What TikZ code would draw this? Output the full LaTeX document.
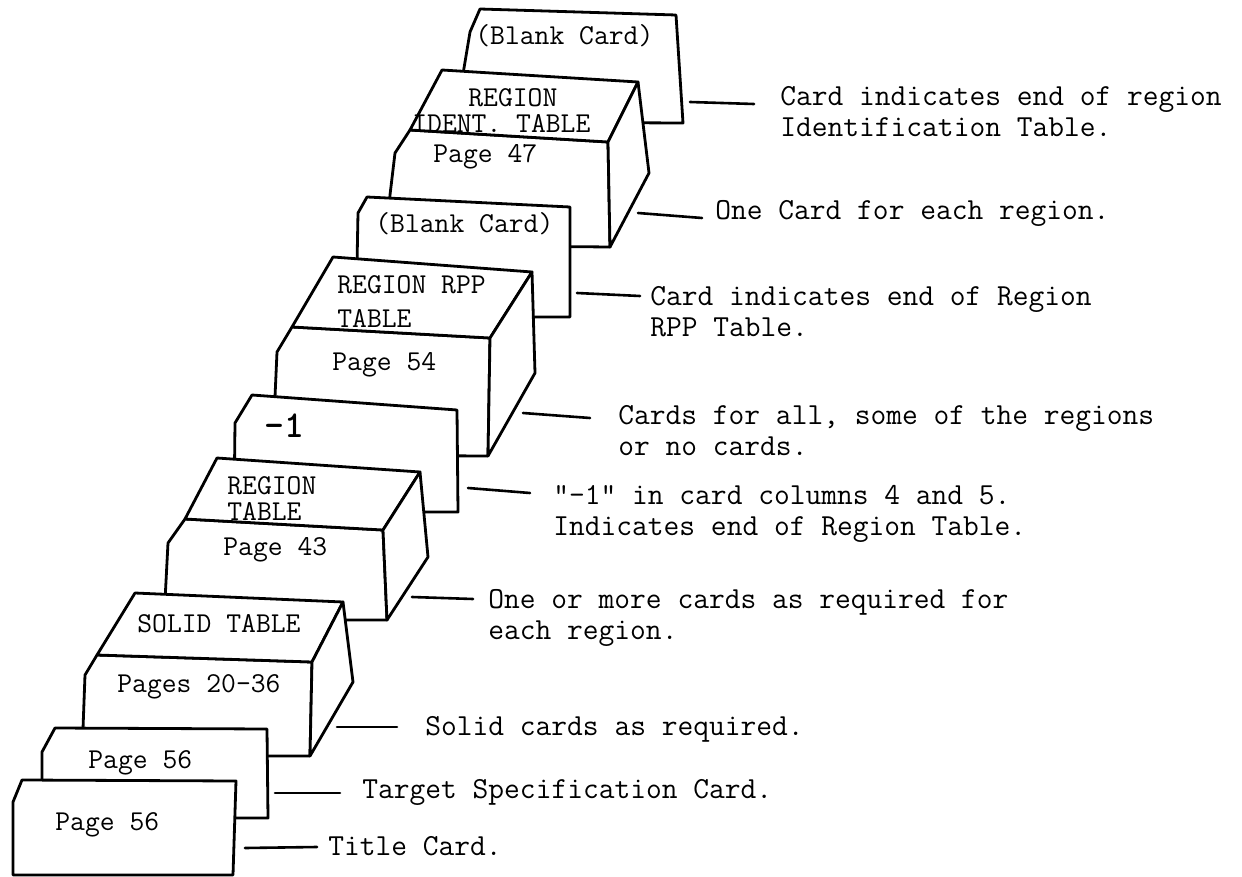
\documentclass[tikz,border=0pt]{standalone}
\usepackage{fontspec}
\usetikzlibrary{positioning}
\tikzset{
  card/.style={line width=1.4pt,line join=round,fill=white}, % faces of a card or a stack
  callout/.style={line width=1.3pt,line cap=round},
  cardtext/.style={anchor=base west,inner sep=0,font=\ttfamily\fontsize{14.4}{15}\selectfont},
  note/.style={anchor=base west,inner sep=0,align=left,font=\ttfamily\fontsize{15.3}{15.5}\selectfont}
}
\newcommand{\cardlabel}[4][]{\node[cardtext,#1] at (#2) (#3) {#4}}
% note anchored at the baseline of its last line
\newcommand{\cardnote}[5]{\coordinate (#1 from) at (#2); \coordinate (#1 to) at (#3);
  \node[note] at (#4) (#1) {#5}; \draw[callout] (#1 from) -- (#1 to)}

\begin{document}
\begin{tikzpicture}[x=0.5pt,y=-0.5pt]
      \useasboundingbox (0,0) rectangle (1242,877);
      % cards, from the back of the deck to the front
      \draw[card] (455,122) -- (470,32) -- (480,9) -- (676,15) -- (683,123) -- cycle;
      \draw[card] (386,245) -- (390,195) -- (395,153) -- (410,130) -- (608,142) -- (610,247) -- cycle;
      \draw[card] (410,130) -- (442,70) -- (638,82) -- (608,142) -- cycle;
      \draw[card] (608,142) -- (638,82) -- (649,173) -- (610,247) -- cycle;
      \draw[card] (356,317) -- (358,213) -- (367,197) -- (570,207) -- (570,317) -- cycle;
      \draw[card] (274,455) -- (275,397) -- (277,352) -- (292,327) -- (490,338) -- (488,456) -- cycle;
      \draw[card] (292,327) -- (333,257) -- (532,272) -- (490,338) -- cycle;
      \draw[card] (490,338) -- (532,272) -- (535,373) -- (488,456) -- cycle;
      \draw[card] (234,512) -- (235,423) -- (252,395) -- (457,410) -- (458,512) -- cycle;
      \draw[card] (164,620) -- (168,543) -- (185,519) -- (383,530) -- (387,620) -- cycle;
      \draw[card] (185,519) -- (217,458) -- (420,472) -- (383,530) -- cycle;
      \draw[card] (383,530) -- (420,472) -- (428,557) -- (387,620) -- cycle;
      \draw[card] (82,756) -- (85,675) -- (97,655) -- (312,662) -- (310,756) -- cycle;
      \draw[card] (97,655) -- (135,593) -- (343,602) -- (312,662) -- cycle;
      \draw[card] (312,662) -- (343,602) -- (353,682) -- (310,756) -- cycle;
      \draw[card] (42,818) -- (42,752) -- (55,728) -- (267,729) -- (268,818) -- cycle;
      \draw[card] (13,875) -- (13,802) -- (22,780) -- (236,781) -- (233,875) -- cycle;
      % what is typed on the cards
      \cardlabel{475,45}{blank2}{(Blank Card)};
      \cardlabel{468,107}{ident1}{REGION};
      \cardlabel{412,133}{ident2}{IDENT. TABLE};
      \cardlabel{433,163}{identpg}{Page 47};
      \cardlabel{375,233}{blank1}{(Blank Card)};
      \cardlabel{337,293}{rpp1}{REGION RPP};
      \cardlabel{337,328}{rpp2}{TABLE};
      \cardlabel{332,370}{rpppg}{Page 54};
      \cardlabel[font=\ttfamily\bfseries\fontsize{19}{19}\selectfont]{264,437}{minus}{-1};
      \cardlabel{227,494}{reg1}{REGION};
      \cardlabel{227,520}{reg2}{TABLE};
      \cardlabel{223,555}{regpg}{Page 43};
      \cardlabel{137,632}{solid}{SOLID TABLE};
      \cardlabel{117,692}{solidpg}{Pages 20-36};
      \cardlabel{88,768}{targetpg}{Page 56};
      \cardlabel{55,830}{titlepg}{Page 56};
      % notes on the right
      \cardnote{n8}{690,102}{754,104}{780,137}{Card indicates end of region\\Identification Table.};
      \cardnote{n7}{638,213}{702,218}{715,220}{One Card for each region.};
      \cardnote{n6}{577,293}{640,296}{650,336}{Card indicates end of Region\\RPP Table.};
      \cardnote{n5}{523,413}{590,418}{618,455}{Cards for all, some of the regions\\or no cards.};
      \cardnote{n4}{468,488}{530,493}{553,535}{"-1" in card columns 4 and 5.\\Indicates end of Region Table.};
      \cardnote{n3}{412,597}{473,599}{488,639}{One or more cards as required for\\each region.};
      \cardnote{n2}{337,727}{397,727}{425,735}{Solid cards as required.};
      \cardnote{n1}{275,793}{340,793}{362,798}{Target Specification Card.};
      \cardnote{n0}{245,848}{317,847}{328,855}{Title Card.};
    \end{tikzpicture}
\end{document}
